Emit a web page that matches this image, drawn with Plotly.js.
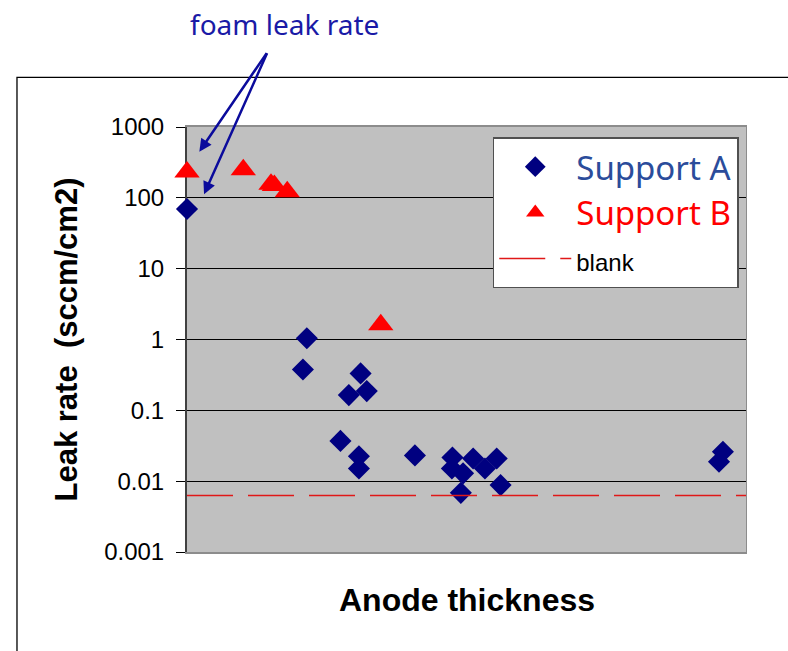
<!DOCTYPE html>
<html>
<head>
<meta charset="utf-8">
<script src="https://cdn.plot.ly/plotly-3.0.1.min.js"></script>
<style>
  html, body { margin: 0; padding: 0; background: #ffffff; }
  #chart { width: 788px; height: 651px; }
</style>
</head>
<body>
<div id="chart"></div>
<script>
// Leak rate versus anode thickness (relative position along the thickness axis)
const supportAThickness = [0, 21.4, 20.7, 31.0, 32.1, 28.9, 27.4, 30.7, 30.7, 40.7,
                           47.4, 47.3, 49.3, 48.9, 51.1, 53.2, 55.3, 56.0, 95.7, 95.0];
const supportALeak      = [69.5, 1.04, 0.378, 0.332, 0.187, 0.164, 0.037, 0.0225, 0.0151, 0.0231,
                           0.0216, 0.0151, 0.0129, 0.00684, 0.0209, 0.0151, 0.0209, 0.0088, 0.026, 0.0188];

const supportBThickness = [0, 10.05, 15.0, 15.6, 17.9, 34.6];
const supportBLeak      = [231, 250, 155, 149, 122, 1.62];

// Leak rate of the blank (no sample) measurement
const blankLeak = 0.0063;
const thicknessSpan = [0, 100];

const yTickValues = [0.001, 0.01, 0.1, 1, 10, 100, 1000];
const yTickLabels = ['0.001', '0.01', '0.1', '1', '10', '100', '1000'];

const seriesNames = ['Support A', 'Support B', 'blank'];

const navy = '#000080';
const red = '#FF0000';
const blankRed = '#E01818';
const arrowBlue = '#0B0B9C';

const traces = [
  {
    type: 'scatter', mode: 'markers',
    x: supportAThickness, y: supportALeak,
    name: '<span style="color:#2B4C9B">' + seriesNames[0] + '</span>',
    marker: { symbol: 'diamond', size: 17, color: navy },
    cliponaxis: false
  },
  {
    type: 'scatter', mode: 'markers',
    x: supportBThickness, y: supportBLeak,
    name: '<span style="color:#FF0000">' + seriesNames[1] + '</span>',
    marker: { symbol: 'triangle-up', size: 22, color: red },
    cliponaxis: false
  },
  {
    type: 'scatter', mode: 'lines',
    x: thicknessSpan, y: thicknessSpan.map(() => blankLeak),
    name: '<span style="color:#000000;font-family:Liberation Sans, Arial;font-size:24px">' + seriesNames[2] + '</span>',
    line: { color: blankRed, width: 1.5, dash: '46px,15px' }
  }
];

const layout = {
  width: 788, height: 651,
  margin: { l: 187, r: 41, t: 127, b: 99, pad: 0 },
  paper_bgcolor: '#ffffff',
  plot_bgcolor: '#C0C0C0',
  showlegend: true,
  font: { family: 'Liberation Sans, Arial, sans-serif', color: '#000000' },
  xaxis: {
    range: thicknessSpan,
    showticklabels: false, ticks: '', showgrid: false, zeroline: false,
    showline: true, linecolor: '#8C8C8C', linewidth: 2, mirror: true,
    title: {
      text: 'Anode thickness', standoff: 36,
      font: { family: 'Liberation Sans, Arial, sans-serif', size: 32, weight: 700, color: '#000000' }
    }
  },
  yaxis: {
    type: 'log', range: [-3, 3],
    tickmode: 'array', tickvals: yTickValues, ticktext: yTickLabels,
    ticks: 'outside', ticklen: 9, tickwidth: 1, tickcolor: '#000000',
    ticklabelstandoff: 7,
    tickfont: { family: 'Liberation Sans, Arial, sans-serif', size: 24, color: '#000000' },
    showgrid: true, gridcolor: '#000000', gridwidth: 1,
    zeroline: false,
    showline: true, linecolor: '#404040', linewidth: 2,
    layer: 'below traces',
    title: {
      text: 'Leak rate \u00A0(sccm/cm2)', standoff: 17,
      font: { family: 'Liberation Sans, Arial, sans-serif', size: 31, weight: 700, color: '#000000' }
    }
  },
  legend: {
    x: 0.546, y: 0.976, xanchor: 'left', yanchor: 'top',
    bgcolor: '#ffffff', bordercolor: '#505050', borderwidth: 1.5,
    font: { family: 'Noto Sans, Open Sans, sans-serif', size: 33, color: '#000000' },
    itemwidth: 72, tracegroupgap: 0
  },
  shapes: [
    // right edge of the plotting area
    { type: 'line', xref: 'x', yref: 'paper', x0: 100, x1: 100, y0: 0, y1: 1,
      line: { color: '#8C8C8C', width: 2 }, layer: 'above' },
    // blank level continues a little past the plotting area
    { type: 'line', xref: 'paper', yref: 'y', x0: 1, x1: 1.0214,
      y0: Math.log10(blankLeak), y1: Math.log10(blankLeak),
      line: { color: blankRed, width: 1.5 }, layer: 'above' },
    // chart frame
    { type: 'rect', xref: 'paper', yref: 'paper', x0: -0.3036, x1: 1.2, y0: -0.3, y1: 1.117,
      line: { color: '#000000', width: 1.3 }, fillcolor: 'rgba(0,0,0,0)', layer: 'above' }
  ],
  annotations: [
    { xref: 'paper', yref: 'paper', x: 0.1736, y: 1.243, xanchor: 'center', yanchor: 'middle',
      text: 'foam leak rate', showarrow: false,
      font: { family: 'Noto Sans, Open Sans, sans-serif', size: 28, color: '#1A1AA6' } },
    { xref: 'paper', yref: 'paper', x: 0.022, y: 0.942, text: '', showarrow: true,
      ax: 68.4, ay: -100, arrowhead: 2, arrowsize: 1, arrowwidth: 2.5, arrowcolor: arrowBlue },
    { xref: 'paper', yref: 'paper', x: 0.0304, y: 0.8416, text: '', showarrow: true,
      ax: 63.7, ay: -142.6, arrowhead: 2, arrowsize: 1, arrowwidth: 2.5, arrowcolor: arrowBlue }
  ]
};

Plotly.newPlot('chart', traces, layout, { displayModeBar: false, staticPlot: true });
</script>
</body>
</html>
